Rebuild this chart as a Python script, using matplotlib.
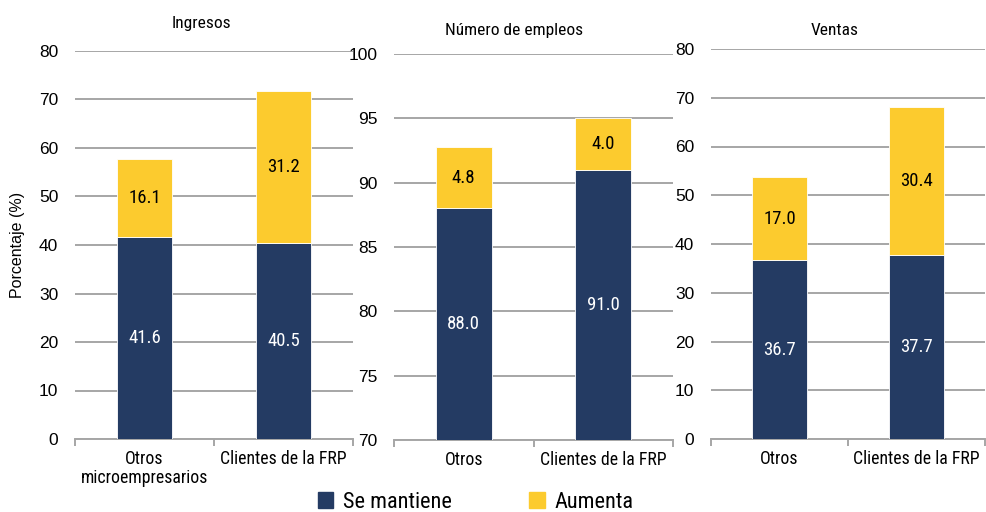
import matplotlib
matplotlib.use("Agg")
import matplotlib.pyplot as plt
from matplotlib.ticker import FixedLocator
from matplotlib.patches import Patch

COND = ["Roboto Condensed", "Liberation Sans Narrow", "Liberation Sans", "DejaVu Sans"]
REG = "Liberation Sans"
plt.rcParams["font.family"] = COND

CATS = [["Otros\nmicroempresarios", "Clientes de la FRP"],
        ["Otros", "Clientes de la FRP"],
        ["Otros", "Clientes de la FRP"]]
TITLES = ["Ingresos", "Número de empleos", "Ventas"]
MANTIENE = [[41.6, 40.5], [88.0, 91.0], [36.7, 37.7]]
AUMENTA = [[16.1, 31.2], [4.8, 4.0], [17.0, 30.4]]
YLIMS = [(0, 80), (70, 100), (0, 80)]
YSTEPS = [10, 5, 10]

NAVY, GOLD, GRID = "#243b63", "#fccb2e", "#a6a6a6"

fig = plt.figure(figsize=(9.86, 5.12), dpi=100)
W, H = 986, 512
boxes = [(75, 51, 353, 439), (394, 54, 673, 440), (711, 49, 985, 439)]
title_pos = [(201, 28), (514, 35), (835, 35)]

for k, (x0, y0, x1, y1) in enumerate(boxes):
    ax = fig.add_axes([x0 / W, 1 - y1 / H, (x1 - x0) / W, (y1 - y0) / H])
    lo, hi = YLIMS[k]
    xs = range(len(CATS[k]))
    base = MANTIENE[k]
    ax.bar(xs, base, width=0.4, color=NAVY, edgecolor="white", linewidth=0.6, zorder=3)
    ax.bar(xs, AUMENTA[k], bottom=base, width=0.4, color=GOLD, edgecolor="white",
           linewidth=0.6, zorder=3)
    for i in xs:
        ax.text(i, (lo + base[i]) / 2, f"{base[i]:.1f}", ha="center", va="center",
                color="white", fontsize=13.5, zorder=4)
        ax.text(i, base[i] + AUMENTA[k][i] / 2, f"{AUMENTA[k][i]:.1f}", ha="center",
                va="center", color="black", fontsize=13.5, zorder=4)
    ax.set_xlim(-0.5, len(CATS[k]) - 0.5)
    ax.set_ylim(lo, hi)
    yt = list(range(lo, hi + 1, YSTEPS[k]))
    ax.set_yticks(yt)
    ax.set_yticklabels([str(v) for v in yt], family=REG, fontsize=12.5)
    ax.yaxis.grid(True, color=GRID, linewidth=1.4, zorder=0)
    ax.set_axisbelow(True)
    ax.set_xticks(list(xs))
    ax.set_xticklabels(CATS[k], fontsize=12.8, linespacing=1.05)
    ax.xaxis.set_minor_locator(FixedLocator([-0.5, 0.5, 1.5]))
    ax.tick_params(axis="x", which="major", length=0, pad=8)
    ax.tick_params(axis="x", which="minor", length=5, color=GRID, width=1.4)
    ax.tick_params(axis="y", length=0, pad=12)
    for s in ["top", "right", "left"]:
        ax.spines[s].set_visible(False)
    ax.spines["bottom"].set_color(GRID)
    ax.spines["bottom"].set_linewidth(1.4)
    tx, ty = title_pos[k]
    fig.text(tx / W, 1 - ty / H, TITLES[k], ha="center", va="baseline", fontsize=12.5)
    if k == 0:
        ax.set_ylabel("Porcentaje (%)", fontsize=11.5, family=REG, labelpad=10)

handles = [Patch(color=NAVY, label="Se mantiene"), Patch(color=GOLD, label="Aumenta")]
fig.legend(handles=handles, loc="center", bbox_to_anchor=(475.5 / W, 1 - 502 / H), ncol=2,
           frameon=False, fontsize=16, handlelength=0.7, handleheight=0.7,
           columnspacing=3.5, handletextpad=0.42, borderpad=0)

fig.savefig("out.png", dpi=100)
